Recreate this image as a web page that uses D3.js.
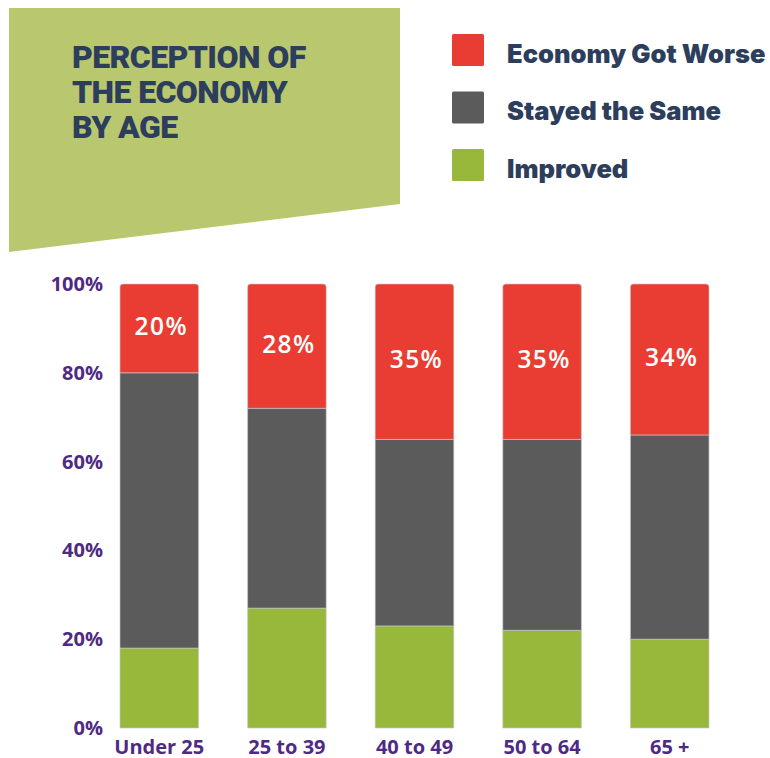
<!DOCTYPE html>
<html>
<head>
<meta charset="utf-8">
<script src="https://cdn.jsdelivr.net/npm/d3@7"></script>
<style>
  body { margin: 0; background: #fff; }
  svg { display: block; }
</style>
</head>
<body>
<svg id="chart" width="770" height="758"></svg>
<script>
// data
var ageGroups = ["Under 25", "25 to 39", "40 to 49", "50 to 64", "65 +"];
var improved  = [18, 27, 23, 22, 20];
var stayed    = [62, 45, 42, 43, 46];
var worse     = [20, 28, 35, 35, 34];
var seriesNames = ["Economy Got Worse", "Stayed the Same", "Improved"];
var yTicks = [0, 20, 40, 60, 80, 100];

var colors = { "Improved": "#97b83b", "Stayed the Same": "#5b5b5b", "Economy Got Worse": "#e93d33" };
var navy = "#2c3e5c", purple = "#4e2a84";

var svg = d3.select("#chart");

// green title panel
svg.append("polygon")
    .attr("points", "9,8 400,8 400,204 9,252")
    .style("fill", "#b9c76f");

var title = svg.append("text")
    .attr("x", 72)
    .style("font-family", "Roboto")
    .style("font-weight", 900)
    .style("font-size", "32px")
    .style("letter-spacing", "-0.6px")
    .style("fill", navy);
["PERCEPTION OF", "THE ECONOMY", "BY AGE"].forEach(function(t, i){
  title.append("tspan").attr("x", 72).attr("y", 68 + i * 35).text(t);
});

// legend
var legend = svg.append("g").selectAll("g")
    .data(seriesNames)
    .enter()
    .append("g")
    .attr("transform", function(d, i){ return "translate(452," + (34 + i * 57.5) + ")"; });
legend.append("rect")
    .attr("width", 32).attr("height", 32).attr("rx", 1.5)
    .style("fill", function(d){ return colors[d]; });
legend.append("text")
    .attr("x", 55).attr("y", 28.5)
    .style("font-family", "Inter")
    .style("font-weight", 900)
    .style("font-size", "25.5px")
    .style("fill", navy)
    .text(function(d){ return d; });

// scales
var x = d3.scaleBand()
    .domain(ageGroups)
    .range([95.5, 733.5])
    .paddingInner(0.384)
    .paddingOuter(0.192);
var y = d3.scaleLinear().domain([0, 100]).range([728, 284]);

var rows = ageGroups.map(function(g, i){
  return { group: g, "Improved": improved[i], "Stayed the Same": stayed[i], "Economy Got Worse": worse[i] };
});
var stack = d3.stack().keys(["Improved", "Stayed the Same", "Economy Got Worse"]);
var layers = stack(rows);

function topRounded(x0, y0, w, h, r){
  return "M" + x0 + "," + (y0 + h) +
    "V" + (y0 + r) +
    "Q" + x0 + "," + y0 + " " + (x0 + r) + "," + y0 +
    "H" + (x0 + w - r) +
    "Q" + (x0 + w) + "," + y0 + " " + (x0 + w) + "," + (y0 + r) +
    "V" + (y0 + h) + "Z";
}

// bars
var layer = svg.append("g").selectAll("g")
    .data(layers)
    .enter()
    .append("g")
    .style("fill", function(d){ return colors[d.key]; });
layer.selectAll("path")
    .data(function(d){ return d.map(function(v){ v.key = d.key; return v; }); })
    .enter()
    .append("path")
    .attr("d", function(d){
      var x0 = x(d.data.group), w = x.bandwidth();
      var y0 = y(d[1]), h = y(d[0]) - y(d[1]);
      var r = d.key == "Economy Got Worse" ? 3 : 0;
      return topRounded(x0, y0, w, h, r);
    })
    .style("stroke", "#c8c8c8")
    .style("stroke-width", 0.8)
    .style("stroke-opacity", 0.8);

// red segment labels
svg.append("g").selectAll("text")
    .data(layers[2])
    .enter()
    .append("text")
    .attr("x", function(d){ return x(d.data.group) + x.bandwidth() / 2 + 2; })
    .attr("y", function(d){ return (y(d[0]) + y(d[1])) / 2 - 2; })
    .attr("dy", "0.35em")
    .attr("text-anchor", "middle")
    .style("font-family", "Open Sans")
    .style("font-weight", 600)
    .style("font-size", "24.5px")
    .style("letter-spacing", "1.4px")
    .style("fill", "#fff")
    .text(function(d){ return (d[1] - d[0]) + "%"; });

// y axis labels
var yAxis = svg.append("g")
    .attr("transform", "translate(103,0)")
    .call(d3.axisLeft(y).tickValues(yTicks).tickSize(0).tickPadding(0)
      .tickFormat(function(d){ return d + "%"; }));
yAxis.select(".domain").remove();
yAxis.selectAll("text")
    .style("font-family", "Open Sans")
    .style("font-weight", 700)
    .style("font-size", "20px")
    .style("fill", purple);

// x axis labels
var xAxis = svg.append("g")
    .attr("transform", "translate(0,740)")
    .call(d3.axisBottom(x).tickSize(0).tickPadding(0));
xAxis.select(".domain").remove();
xAxis.selectAll("text")
    .attr("dy", "0.7em")
    .style("font-family", "Open Sans")
    .style("font-weight", 700)
    .style("font-size", "20px")
    .style("fill", purple);
</script>
</body>
</html>
